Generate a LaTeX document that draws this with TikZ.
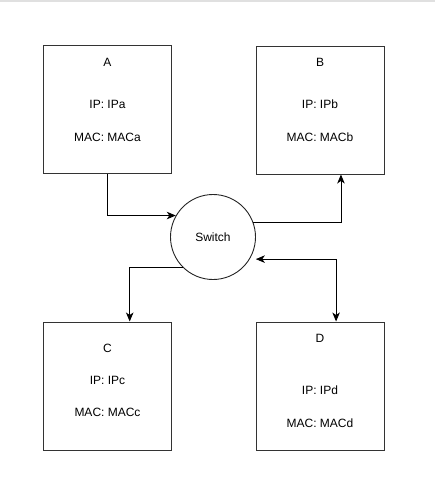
\documentclass[tikz,border=0pt]{standalone}
\usepackage{fontspec}
\setmainfont{Liberation Sans}
\usetikzlibrary{arrows.meta}

\tikzset{
    >={Stealth[length=9pt,width=7.5pt,inset=2.5pt]},
    host/.style={draw=black!80, line width=1pt, minimum size=128pt, inner sep=0pt},
    txt/.style={font=\fontsize{12}{14}\selectfont, inner sep=0pt},
    link/.style={line width=0.9pt}
}

\begin{document}
\begin{tikzpicture}[x=1pt,y=-1pt]

            \useasboundingbox (0,0) rectangle (435,485);
            \draw[black!12, line width=2pt] (0,1) -- (435,1);

            % hosts
            \node[host] (A) at (107.5,109.5) {};
            \node[host] (B) at (320,110) {};
            \node[host] (C) at (107.5,386) {};
            \node[host] (D) at (320,386) {};

            \node[txt] (Aname) at (107.5,62) {A};
            \node[txt] (Aip) at (107.5,104) {IP: IPa};
            \node[txt] (Amac) at (107.5,137) {MAC: MACa};

            \node[txt] (Bname) at (320,62) {B};
            \node[txt] (Bip) at (320,104) {IP: IPb};
            \node[txt] (Bmac) at (320,137) {MAC: MACb};

            \node[txt] (Cname) at (107.5,348) {C};
            \node[txt] (Cip) at (107.5,380) {IP: IPc};
            \node[txt] (Cmac) at (107.5,412) {MAC: MACc};

            \node[txt] (Dname) at (320,338) {D};
            \node[txt] (Dip) at (320,390) {IP: IPd};
            \node[txt] (Dmac) at (320,423) {MAC: MACd};

            % switch
            \node[circle, draw=black!85, line width=0.9pt, minimum size=85pt, inner sep=0pt, txt] (sw) at (213,237) {Switch};

            \draw[link, ->] (A.south) |- (sw.150);
            \draw[link, ->] (sw.20) -| (B.-72);
            \draw[link, ->] (sw.225) -| (C.71);
            \draw[link, <->, shorten <=6pt] (sw.-31) -| (D.76);

\end{tikzpicture}
\end{document}
